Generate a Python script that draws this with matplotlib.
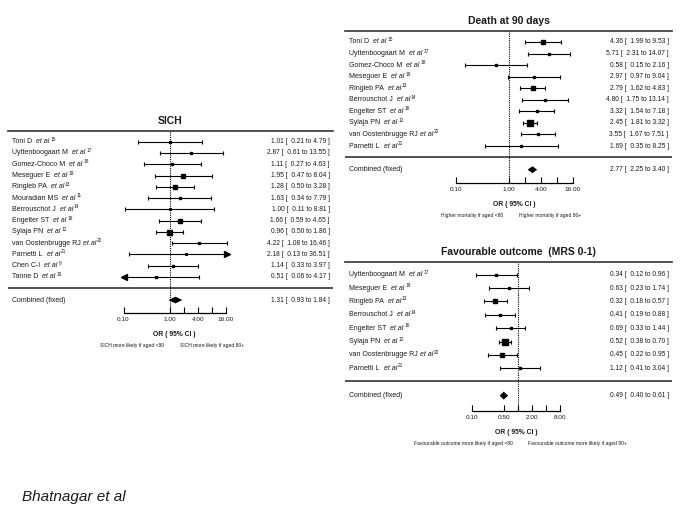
import numpy as np
import matplotlib
matplotlib.use("Agg")
import matplotlib.pyplot as plt
from matplotlib.transforms import blended_transform_factory
from matplotlib.ticker import NullLocator

plt.rcParams["font.family"] = ["Liberation Sans", "DejaVu Sans"]

# SICH
sich_names = ["Toni D", "Uyttenboogaart M", "Gomez-Choco M", "Meseguer E", "Ringleb PA",
              "Mouradian MS", "Berrouschot J", "Engelter ST", "Sylaja PN",
              "van Oostenbrugge RJ", "Parnetti L", "Chen C-I", "Tanne D"]
sich_refs = [15, 17, 18, 19, 13, 11, 14, 16, 12, 20, 21, 9, 10]
sich_or = [1.01, 2.87, 1.11, 1.95, 1.28, 1.63, 1.00, 1.66, 0.96, 4.22, 2.18, 1.14, 0.51]
sich_lo = [0.21, 0.61, 0.27, 0.47, 0.50, 0.34, 0.11, 0.59, 0.50, 1.08, 0.13, 0.33, 0.06]
sich_hi = [4.79, 13.55, 4.63, 8.04, 3.28, 7.79, 8.81, 4.65, 1.86, 16.46, 36.51, 3.97, 4.17]
sich_w = [1.4, 1.4, 1.4, 2.2, 2.6, 1.4, 1.2, 2.2, 3.6, 1.4, 1.2, 1.9, 1.9]
sich_comb = [1.31, 0.93, 1.84]

# Death at 90 days
death_names = ["Toni D", "Uyttenboogaart M", "Gomez-Choco M", "Meseguer E", "Ringleb PA",
               "Berrouschot J", "Engelter ST", "Sylaja PN", "van Oostenbrugge RJ", "Parnetti L"]
death_refs = [15, 17, 18, 19, 13, 14, 16, 12, 20, 21]
death_or = [4.36, 5.71, 0.58, 2.97, 2.79, 4.80, 3.32, 2.45, 3.55, 1.69]
death_lo = [1.99, 2.31, 0.15, 0.97, 1.62, 1.75, 1.54, 1.81, 1.67, 0.35]
death_hi = [9.53, 14.07, 2.16, 9.04, 4.83, 13.14, 7.18, 3.32, 7.51, 8.25]
death_w = [2.2, 1.9, 1.9, 1.9, 3.1, 1.9, 1.9, 3.8, 1.9, 1.5]
death_comb = [2.77, 2.25, 3.40]

# Favourable outcome
fav_names = ["Uyttenboogaart M", "Meseguer E", "Ringleb PA", "Berrouschot J",
             "Engelter ST", "Sylaja PN", "van Oostenbrugge RJ", "Parnetti L"]
fav_refs = [17, 19, 13, 14, 16, 12, 20, 21]
fav_or = [0.34, 0.63, 0.32, 0.41, 0.69, 0.52, 0.45, 1.12]
fav_lo = [0.12, 0.23, 0.18, 0.19, 0.33, 0.38, 0.22, 0.41]
fav_hi = [0.96, 1.74, 0.57, 0.88, 1.44, 0.70, 0.95, 3.04]
fav_w = [1.5, 1.9, 2.6, 1.9, 1.5, 3.8, 2.2, 1.5]
fav_comb = [0.49, 0.40, 0.61]

W, H = 689, 517
fig = plt.figure(figsize=(W / 100, H / 100), dpi=100)
TXT = "#1a1a1a"


def study_label(ax, tr, y, name, ref):
    # name, then italic "et al", then a small superscript reference number
    t1 = ax.text(0.012, y, name, transform=tr, va="center", fontsize=5, color=TXT)
    gap = 1.5 if name.startswith("van") else 3
    t2 = ax.annotate("et al", xy=(1, 0.5), xycoords=t1, xytext=(gap, 0),
                     textcoords="offset points", va="center", ha="left",
                     fontsize=5, style="italic", color=TXT)
    ax.annotate(str(ref), xy=(1, 0.5), xycoords=t2, xytext=(0.6, 1.8),
                textcoords="offset points", va="center", ha="left",
                fontsize=3.4, color=TXT)


def panel(rect, zero_px, dec_px, names, refs, est, lo, hi, w, comb, title,
          ticks, ticklabels, axis_lim, clip, foot_left, foot_right):
    x0, x1, ytop, ybot = rect
    ax = fig.add_axes([x0 / W, 1 - ybot / H, (x1 - x0) / W, (ybot - ytop) / H])
    ax.set_xscale("log")
    ax.set_xlim(10 ** ((x0 - zero_px) / dec_px), 10 ** ((x1 - zero_px) / dec_px))
    n = len(names)
    ax.set_ylim(n + 2.2, -0.95)
    tr = blended_transform_factory(ax.transAxes, ax.transData)

    for s in ["left", "right"]:
        ax.spines[s].set_visible(False)
    ax.spines["top"].set_linewidth(1.2)
    ax.spines["top"].set_color("#333333")
    ax.spines["bottom"].set_bounds(*axis_lim)
    ax.spines["bottom"].set_linewidth(0.9)
    ax.axhline(n - 0.02, color="#333333", lw=1.2)
    ax.axvline(1, color="k", lw=0.8, ls=(0, (1, 1)))

    ax.set_yticks([])
    ax.set_xticks(ticks, labels=ticklabels)
    ax.xaxis.set_minor_locator(NullLocator())
    ax.tick_params(axis="x", direction="in", length=4, width=0.8,
                   labelsize=4.6, pad=3, labelcolor=TXT)

    for i in range(n):
        a = max(lo[i], clip[0])
        b = min(hi[i], clip[1])
        ax.plot([a, b], [i, i], color="k", lw=0.8)
        if lo[i] < clip[0]:
            ax.plot(a, i, marker="<", ms=4, color="k")
        else:
            ax.plot(a, i, marker="|", ms=3.5, mew=0.8, color="k")
        if hi[i] > clip[1]:
            ax.plot(b, i, marker=">", ms=4, color="k")
        else:
            ax.plot(b, i, marker="|", ms=3.5, mew=0.8, color="k")
        ax.plot(est[i], i, "s", ms=w[i], color="k")
        study_label(ax, tr, i, names[i], refs[i])
        ax.text(0.99, i, f"{est[i]:.2f} [  {lo[i]:.2f} to {hi[i]:.2f} ]",
                transform=tr, va="center", ha="right", fontsize=4.8, color=TXT)

    yc = n + 1.05
    e, l, h = comb
    ax.fill([l, e, h, e], [yc, yc - 0.3, yc, yc + 0.3], color="k", lw=0)
    ax.text(0.012, yc, "Combined (fixed)", transform=tr, va="center", fontsize=5, color=TXT)
    ax.text(0.99, yc, f"{e:.2f} [  {l:.2f} to {h:.2f} ]", transform=tr,
            va="center", ha="right", fontsize=4.8, color=TXT)

    ax.annotate(title, xy=(1, 1), xycoords=("data", "axes fraction"),
                xytext=(0, 7.5), textcoords="offset points", ha="center",
                va="center", fontsize=7.5, fontweight="bold", color=TXT)
    mid = np.sqrt(axis_lim[0] * axis_lim[1])
    ax.annotate("OR ( 95% CI )", xy=(mid, 0), xycoords=("data", "axes fraction"),
                xytext=(0, -15.5), textcoords="offset points", ha="center",
                va="center", fontsize=4.9, fontweight="bold", color=TXT)
    ax.annotate(foot_left, xy=(1, 0), xycoords=("data", "axes fraction"),
                xytext=(-4, -23.5), textcoords="offset points", ha="right",
                va="center", fontsize=3.6, color=TXT)
    ax.annotate(foot_right, xy=(1, 0), xycoords=("data", "axes fraction"),
                xytext=(7, -23.5), textcoords="offset points", ha="left",
                va="center", fontsize=3.6, color=TXT)
    return ax


panel((8, 333, 131, 313), 170, 46.5, sich_names, sich_refs, sich_or, sich_lo,
      sich_hi, sich_w, sich_comb, "SICH",
      [0.1, 1, 2, 4, 8, 16], ["0.10", "1.00", "", "4.00", "", "16.00"],
      (0.1, 16), (0.1, 17),
      "SICH more likely if aged <80", "SICH more likely if aged 80+")

panel((345, 672, 31, 183), 509, 53, death_names, death_refs, death_or, death_lo,
      death_hi, death_w, death_comb, "Death at 90 days",
      [0.1, 1, 2, 4, 8, 16], ["0.10", "1.00", "", "4.00", "", "16.00"],
      (0.1, 16), (0.1, 17),
      "Higher mortality if aged <80", "Higher mortality if aged 80+")

panel((345, 672, 262, 411), 518, 46, fav_names, fav_refs, fav_or, fav_lo,
      fav_hi, fav_w, fav_comb, "Favourable outcome  (MRS 0-1)",
      [0.1, 0.5, 1, 2, 4, 8], ["0.10", "0.50", "", "2.00", "", "8.00"],
      (0.1, 8), (0.1, 9),
      "Favourable outcome more likely if aged <80",
      "Favourable outcome more likely if aged 80+")

fig.text(22 / W, 1 - 497 / H, "Bhatnagar et al", style="italic", fontsize=11,
         va="center", ha="left", color=TXT)

fig.savefig("out.png", dpi=100)
